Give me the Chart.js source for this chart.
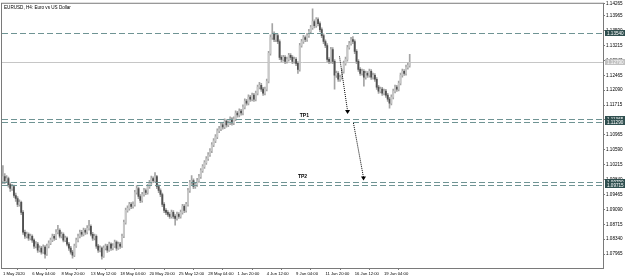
<!doctype html>
<html>
<head>
<meta charset="utf-8">
<title>EURUSD H4</title>
<style>
  html, body { margin:0; padding:0; background:#fff; }
  canvas { display:block; }
</style>
<script src="https://cdn.jsdelivr.net/npm/chart.js"></script>
</head>
<body>
<canvas id="chart" width="625" height="279"></canvas>
<script>
const symbolTitle = 'EURUSD, H4: Euro vs US Dollar';

// time axis: one label every 16 H4 bars
const timeLabels = ['1 May 2020', '6 May 04:00', '8 May 20:00', '13 May 12:00', '18 May 04:00',
  '20 May 20:00', '25 May 12:00', '28 May 04:00', '1 Jun 20:00', '4 Jun 12:00',
  '9 Jun 04:00', '11 Jun 20:00', '16 Jun 12:00', '19 Jun 04:00'];
const labelEvery = 16;
const barSlots = 328;

// price axis
const priceMin = 1.07615;
const priceMax = 1.14265;
const priceTicks = [1.07965, 1.08340, 1.08715, 1.09090, 1.09465, 1.09840, 1.10215, 1.10590,
  1.10965, 1.11340, 1.11715, 1.12090, 1.12465, 1.12840, 1.13215, 1.13590, 1.13965, 1.14265];

const opens = [
  1.09815,1.09915,1.09815,1.09865,1.09715,1.09615,1.09665,1.09440,1.09365,1.09215,
  1.09265,1.09015,1.08515,1.08415,1.08465,1.08365,1.08415,1.08315,1.08165,1.08215,
  1.08065,1.08115,1.08015,1.08140,1.07965,1.08165,1.08240,1.08315,1.08415,1.08365,
  1.08515,1.08565,1.08415,1.08465,1.08315,1.08365,1.08215,1.08115,1.08015,1.07940,
  1.08165,1.08315,1.08415,1.08515,1.08465,1.08565,1.08515,1.08615,1.08665,1.08465,
  1.08365,1.08415,1.08165,1.08065,1.08115,1.07915,1.08115,1.08165,1.08065,1.08215,
  1.08115,1.08165,1.08265,1.08115,1.08215,1.08165,1.08415,1.08765,1.09065,1.09115,
  1.09215,1.09165,1.09215,1.09515,1.09615,1.09415,1.09315,1.09465,1.09565,1.09515,
  1.09665,1.09765,1.09865,1.09815,1.09915,1.09665,1.09565,1.09465,1.09215,1.09065,
  1.09015,1.08965,1.08915,1.09015,1.08915,1.08865,1.08965,1.08915,1.09015,1.09165,
  1.09065,1.09215,1.09565,1.09765,1.09815,1.09665,1.09715,1.09815,1.09915,1.10065,
  1.10165,1.10265,1.10365,1.10465,1.10565,1.10715,1.10815,1.10915,1.11065,1.11115,
  1.11215,1.11165,1.11315,1.11215,1.11265,1.11365,1.11265,1.11365,1.11515,1.11465,
  1.11565,1.11515,1.11665,1.11815,1.11765,1.11915,1.11865,1.11965,1.11865,1.12015,
  1.12165,1.12215,1.12115,1.12015,1.12115,1.12315,1.13015,1.13415,1.13515,1.13365,
  1.13465,1.13315,1.12915,1.12865,1.12915,1.12815,1.12865,1.12965,1.12915,1.12815,
  1.12865,1.12765,1.12615,1.13215,1.13315,1.13415,1.13365,1.13465,1.13565,1.13665,
  1.13815,1.13715,1.13865,1.13765,1.13615,1.13465,1.13315,1.13215,1.12865,1.12815,
  1.13115,1.12815,1.12465,1.12515,1.12365,1.12415,1.12565,1.12765,1.12865,1.13165,
  1.13265,1.13365,1.13315,1.13065,1.12815,1.12615,1.12515,1.12565,1.12415,1.12515,
  1.12465,1.12565,1.12415,1.12465,1.12365,1.12165,1.12065,1.12115,1.12015,1.12065,
  1.11965,1.11865,1.11765,1.11915,1.12065,1.12165,1.12115,1.12265,1.12465,1.12565,
  1.12515,1.12665,1.12715];

const highs = [
  1.10190,1.09990,1.09940,1.09905,1.09760,1.09720,1.09700,1.09500,1.09410,1.09330,
  1.09300,1.09060,1.08570,1.08520,1.08500,1.08470,1.08450,1.08350,1.08280,1.08260,
  1.08170,1.08160,1.08200,1.08180,1.08220,1.08300,1.08370,1.08470,1.08460,1.08580,
  1.08690,1.08600,1.08520,1.08500,1.08420,1.08400,1.08260,1.08160,1.08060,1.08220,
  1.08370,1.08470,1.08570,1.08560,1.08620,1.08610,1.08680,1.08815,1.08700,1.08510,
  1.08470,1.08450,1.08210,1.08170,1.08150,1.08170,1.08220,1.08210,1.08270,1.08250,
  1.08230,1.08320,1.08300,1.08270,1.08260,1.08470,1.08820,1.09120,1.09180,1.09270,
  1.09260,1.09280,1.09570,1.09690,1.09650,1.09460,1.09520,1.09620,1.09610,1.09720,
  1.09820,1.09930,1.09910,1.10015,1.09950,1.09710,1.09610,1.09500,1.09260,1.09110,
  1.09060,1.09010,1.09070,1.09060,1.08960,1.09020,1.09010,1.09070,1.09220,1.09210,
  1.09270,1.09620,1.09820,1.09940,1.09860,1.09770,1.09870,1.09970,1.10120,1.10220,
  1.10320,1.10420,1.10520,1.10620,1.10770,1.10870,1.10970,1.11120,1.11180,1.11270,
  1.11260,1.11370,1.11350,1.11320,1.11420,1.11400,1.11420,1.11570,1.11560,1.11620,
  1.11610,1.11720,1.11870,1.11860,1.11970,1.11960,1.12020,1.12010,1.12070,1.12220,
  1.12290,1.12260,1.12160,1.12170,1.12370,1.13070,1.13480,1.13765,1.13560,1.13520,
  1.13510,1.13360,1.12960,1.12970,1.12960,1.12920,1.13020,1.13010,1.12960,1.12920,
  1.12910,1.12810,1.13270,1.13370,1.13470,1.13460,1.13520,1.13620,1.13720,1.14140,
  1.13860,1.13920,1.13910,1.13810,1.13660,1.13510,1.13360,1.13260,1.12910,1.13170,
  1.13160,1.12860,1.12570,1.12560,1.12470,1.12620,1.12820,1.12920,1.13220,1.13320,
  1.13420,1.13440,1.13360,1.13110,1.12860,1.12660,1.12620,1.12610,1.12570,1.12560,
  1.12620,1.12610,1.12520,1.12510,1.12410,1.12210,1.12170,1.12160,1.12120,1.12110,
  1.12010,1.11910,1.11970,1.12120,1.12220,1.12210,1.12320,1.12520,1.12620,1.12610,
  1.12720,1.12770,1.12990];

const lows = [
  1.09740,1.09740,1.09760,1.09650,1.09540,1.09570,1.09390,1.09290,1.09160,1.09170,
  1.08960,1.08460,1.08360,1.08370,1.08310,1.08320,1.08260,1.08110,1.08120,1.08010,
  1.08020,1.07960,1.07980,1.07865,1.07930,1.08120,1.08200,1.08280,1.08310,1.08330,
  1.08470,1.08370,1.08370,1.08270,1.08280,1.08170,1.08060,1.07960,1.07865,1.07900,
  1.08130,1.08270,1.08370,1.08410,1.08420,1.08460,1.08470,1.08570,1.08420,1.08310,
  1.08320,1.08110,1.08010,1.08020,1.07840,1.07880,1.08070,1.08010,1.08030,1.08060,
  1.08070,1.08130,1.08060,1.08080,1.08110,1.08130,1.08380,1.08720,1.09020,1.09070,
  1.09110,1.09120,1.09170,1.09470,1.09360,1.09260,1.09270,1.09420,1.09460,1.09470,
  1.09620,1.09720,1.09760,1.09770,1.09610,1.09510,1.09410,1.09160,1.09010,1.08960,
  1.08910,1.08860,1.08870,1.08860,1.08690,1.08820,1.08860,1.08870,1.08970,1.09010,
  1.09020,1.09170,1.09520,1.09720,1.09610,1.09620,1.09670,1.09770,1.09870,1.10020,
  1.10120,1.10220,1.10320,1.10420,1.10520,1.10670,1.10770,1.10870,1.11020,1.11070,
  1.11110,1.11120,1.11160,1.11170,1.11220,1.11210,1.11220,1.11320,1.11410,1.11420,
  1.11460,1.11470,1.11620,1.11710,1.11720,1.11810,1.11820,1.11810,1.11820,1.11970,
  1.12120,1.12060,1.11960,1.11970,1.12070,1.12270,1.12970,1.13370,1.13310,1.13310,
  1.13260,1.12860,1.12810,1.12820,1.12760,1.12770,1.12820,1.12860,1.12760,1.12770,
  1.12710,1.12515,1.12570,1.13170,1.13270,1.13310,1.13320,1.13420,1.13520,1.13620,
  1.13660,1.13670,1.13710,1.13560,1.13410,1.13260,1.13160,1.12810,1.12760,1.12770,
  1.12760,1.12115,1.12410,1.12310,1.12310,1.12370,1.12520,1.12720,1.12820,1.13120,
  1.13220,1.13260,1.13010,1.12760,1.12560,1.12460,1.12470,1.12190,1.12370,1.12410,
  1.12420,1.12360,1.12370,1.12310,1.12110,1.12010,1.12020,1.11960,1.11970,1.11910,
  1.11810,1.11640,1.11720,1.11870,1.12020,1.12060,1.12070,1.12220,1.12420,1.12460,
  1.12470,1.12620,1.12670];

const closes = [
  1.09915,1.09815,1.09865,1.09715,1.09615,1.09665,1.09440,1.09365,1.09215,1.09265,
  1.09015,1.08515,1.08415,1.08465,1.08365,1.08415,1.08315,1.08165,1.08215,1.08065,
  1.08115,1.08015,1.08140,1.07965,1.08165,1.08240,1.08315,1.08415,1.08365,1.08515,
  1.08565,1.08415,1.08465,1.08315,1.08365,1.08215,1.08115,1.08015,1.07940,1.08165,
  1.08315,1.08415,1.08515,1.08465,1.08565,1.08515,1.08615,1.08665,1.08465,1.08365,
  1.08415,1.08165,1.08065,1.08115,1.07915,1.08115,1.08165,1.08065,1.08215,1.08115,
  1.08165,1.08265,1.08115,1.08215,1.08165,1.08415,1.08765,1.09065,1.09115,1.09215,
  1.09165,1.09215,1.09515,1.09615,1.09415,1.09315,1.09465,1.09565,1.09515,1.09665,
  1.09765,1.09865,1.09815,1.09915,1.09665,1.09565,1.09465,1.09215,1.09065,1.09015,
  1.08965,1.08915,1.09015,1.08915,1.08865,1.08965,1.08915,1.09015,1.09165,1.09065,
  1.09215,1.09565,1.09765,1.09815,1.09665,1.09715,1.09815,1.09915,1.10065,1.10165,
  1.10265,1.10365,1.10465,1.10565,1.10715,1.10815,1.10915,1.11065,1.11115,1.11215,
  1.11165,1.11315,1.11215,1.11265,1.11365,1.11265,1.11365,1.11515,1.11465,1.11565,
  1.11515,1.11665,1.11815,1.11765,1.11915,1.11865,1.11965,1.11865,1.12015,1.12165,
  1.12215,1.12115,1.12015,1.12115,1.12315,1.13015,1.13415,1.13515,1.13365,1.13465,
  1.13315,1.12915,1.12865,1.12915,1.12815,1.12865,1.12965,1.12915,1.12815,1.12865,
  1.12765,1.12615,1.13215,1.13315,1.13415,1.13365,1.13465,1.13565,1.13665,1.13815,
  1.13715,1.13865,1.13765,1.13615,1.13465,1.13315,1.13215,1.12865,1.12815,1.13115,
  1.12815,1.12465,1.12515,1.12365,1.12415,1.12565,1.12765,1.12865,1.13165,1.13265,
  1.13365,1.13315,1.13065,1.12815,1.12615,1.12515,1.12565,1.12415,1.12515,1.12465,
  1.12565,1.12415,1.12465,1.12365,1.12165,1.12065,1.12115,1.12015,1.12065,1.11965,
  1.11865,1.11765,1.11915,1.12065,1.12165,1.12115,1.12265,1.12465,1.12565,1.12515,
  1.12665,1.12715,1.12790];

// horizontal objects on the chart
const bidPrice = 1.12790;
const dashedLevels = [1.13540, 1.11365, 1.11290, 1.09790, 1.09715];

// text labels and arrows (bar index / price)
const tpNames = ['TP1', 'TP2'];
const tpBars = [164.5, 163.5];
const tpPrices = [1.11440, 1.09915];
const arrowFromBar = [183.7, 191.3];
const arrowFromPrice = [1.12940, 1.11265];
const arrowToBar = [188.1, 196.8];
const arrowToPrice = [1.11490, 1.09815];

const font = 'Liberation Sans, Arial, sans-serif';
const frameColor = '#7a7a7a';
const levelColor = '#6f9494';

const wickData = closes.map((c, i) => ({ x: i, y: [lows[i], highs[i]] }));
const bodyData = closes.map((c, i) => ({ x: i, y: [opens[i], c] }));
const isBull = closes.map((c, i) => c >= opens[i]);

const overlay = {
  id: 'overlay',
  beforeDatasetsDraw(chart) {
    const { ctx, chartArea: a, scales: { y } } = chart;
    ctx.save();
    ctx.strokeStyle = '#c6c6c6';
    ctx.lineWidth = 1;
    const py = Math.round(y.getPixelForValue(bidPrice)) + 0.5;
    ctx.beginPath(); ctx.moveTo(a.left, py); ctx.lineTo(a.right, py); ctx.stroke();
    ctx.restore();
  },
  afterDatasetsDraw(chart) {
    const { ctx, chartArea: a, scales: { x, y } } = chart;
    ctx.save();
    ctx.beginPath();
    ctx.rect(a.left, a.top, a.right - a.left, a.bottom - a.top);
    ctx.clip();

    // dashed levels
    ctx.strokeStyle = levelColor;
    ctx.lineWidth = 1;
    ctx.setLineDash([6, 3]);
    dashedLevels.forEach(p => {
      const py = Math.round(y.getPixelForValue(p)) + 0.5;
      ctx.beginPath(); ctx.moveTo(a.left, py); ctx.lineTo(a.right, py); ctx.stroke();
    });

    // dotted arrows
    ctx.strokeStyle = '#000';
    ctx.setLineDash([1, 1]);
    arrowFromBar.forEach((b, k) => {
      const x0 = x.getPixelForValue(b), y0 = y.getPixelForValue(arrowFromPrice[k]);
      const x1 = x.getPixelForValue(arrowToBar[k]), y1 = y.getPixelForValue(arrowToPrice[k]);
      ctx.beginPath(); ctx.moveTo(x0, y0); ctx.lineTo(x1, y1 - 3); ctx.stroke();
      ctx.fillStyle = '#000';
      ctx.beginPath();
      ctx.moveTo(x1 - 2.5, y1 - 4); ctx.lineTo(x1 + 2.5, y1 - 4); ctx.lineTo(x1, y1); ctx.closePath();
      ctx.fill();
    });
    ctx.setLineDash([]);

    // TP texts
    ctx.fillStyle = '#000';
    ctx.font = 'bold 5px ' + font;
    ctx.textAlign = 'center';
    ctx.textBaseline = 'middle';
    tpNames.forEach((t, k) => {
      ctx.fillText(t, x.getPixelForValue(tpBars[k]), y.getPixelForValue(tpPrices[k]));
    });

    // symbol title
    ctx.font = '4.6px ' + font;
    ctx.textAlign = 'left';
    ctx.textBaseline = 'top';
    ctx.fillText(symbolTitle, a.left + 2, a.top + 2);
    ctx.restore();
  },
  afterDraw(chart) {
    const { ctx, chartArea: a, scales: { y } } = chart;
    ctx.save();
    // frame
    ctx.strokeStyle = frameColor;
    ctx.lineWidth = 1;
    ctx.strokeRect(a.left - 0.5, a.top - 0.5, a.right - a.left + 1, a.bottom - a.top + 1);

    // price boxes on the axis
    ctx.font = '4.6px ' + font;
    ctx.textAlign = 'left';
    ctx.textBaseline = 'middle';
    const box = (p, bg) => {
      const py = Math.round(y.getPixelForValue(p));
      ctx.fillStyle = bg;
      ctx.fillRect(a.right + 2, py - 3, 21, 6);
      ctx.fillStyle = '#fff';
      ctx.fillText(p.toFixed(5), a.right + 4, py + 0.5);
    };
    dashedLevels.forEach(p => box(p, '#2f4f4f'));
    box(bidPrice, '#c0c0c0');
    ctx.restore();
  }
};

new Chart(document.getElementById('chart'), {
  type: 'bar',
  data: {
    datasets: [
      {
        data: wickData,
        backgroundColor: '#a4a4a4',
        barThickness: 1,
        grouped: false,
        order: 2
      },
      {
        data: bodyData,
        backgroundColor: isBull.map(b => b ? '#c8c8c8' : '#505050'),
        barThickness: 1.2,
        minBarLength: 1,
        grouped: false,
        order: 1
      }
    ]
  },
  options: {
    responsive: false,
    devicePixelRatio: 1,
    animation: false,
    layout: { padding: { left: 2, top: 2, right: 0, bottom: 0 } },
    plugins: { legend: { display: false }, tooltip: { enabled: false } },
    scales: {
      x: {
        type: 'linear',
        min: -0.5,
        max: barSlots - 0.5,
        offset: false,
        afterBuildTicks: s => { s.ticks = timeLabels.map((t, k) => ({ value: k * labelEvery })); },
        afterFit: s => { s.height = 11; },
        grid: { display: true, drawOnChartArea: false, drawTicks: true, tickLength: 2, color: frameColor },
        border: { display: true, color: frameColor },
        ticks: {
          autoSkip: false,
          maxRotation: 0,
          minRotation: 0,
          align: 'start',
          padding: 1,
          color: '#000',
          font: { family: font, size: 4.2 },
          callback: (v, i) => timeLabels[i]
        }
      },
      y: {
        position: 'right',
        min: priceMin,
        max: priceMax,
        afterBuildTicks: s => { s.ticks = priceTicks.map(v => ({ value: v })); },
        afterFit: s => { s.width = 22; },
        grid: { display: true, drawOnChartArea: false, drawTicks: true, tickLength: 2, color: frameColor },
        border: { display: true, color: frameColor },
        ticks: {
          autoSkip: false,
          padding: 1,
          color: '#000',
          font: { family: font, size: 4.6 },
          callback: v => v.toFixed(5)
        }
      }
    }
  },
  plugins: [overlay]
});
</script>
</body>
</html>
